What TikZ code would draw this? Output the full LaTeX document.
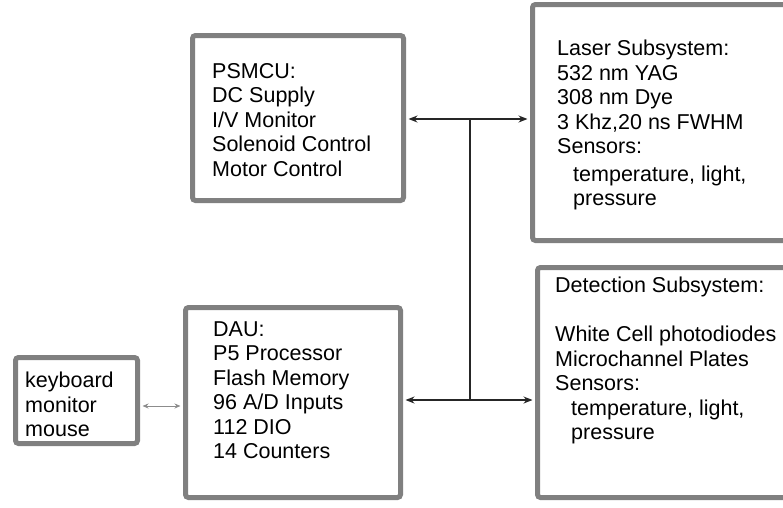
\documentclass[tikz,border=0pt]{standalone}
\usepackage{fontspec}
\setmainfont{Liberation Sans}
\usetikzlibrary{arrows.meta}
\begin{document}
\begin{tikzpicture}[x=1pt,y=-1pt,
 box/.style={draw=black!50, line width=5pt, rounded corners=3pt, inner sep=0pt},
 txt/.style={anchor=north west, align=left, inner sep=0pt, font=\fontsize{21.5}{24.5}\selectfont},
 bus/.style={line width=1.3pt, draw=black!85},
 tip/.style={-{Stealth[length=9pt,width=7pt]}, shorten >=2.5pt},
 kb/.style={line width=1pt, draw=black!45, {Stealth[length=6pt,width=5pt]}-{Stealth[length=6pt,width=5pt]}, shorten >=2.5pt, shorten <=2.5pt}
]
\useasboundingbox (0,0) rectangle (783,507);
\clip (0,0) rectangle (783,507);
\node[box, minimum width=211, minimum height=165] (psmcu) at (298,118) {};
\node[box, minimum width=262.5, minimum height=236] (laser) at (663.75,122.5) {};
\node[box, minimum width=257.5, minimum height=230] (det) at (666.25,382.5) {};
\node[box, minimum width=215, minimum height=190] (dau) at (293,402.5) {};
\node[box, minimum width=122, minimum height=86] (kbd) at (76.5,400.5) {};

\node[txt] (psmcuT) at (212,63) {PSMCU:\\DC Supply\\I/V Monitor\\Solenoid Control\\Motor Control};
\node[txt] (laserT) at (557,40) {Laser Subsystem:\\532 nm YAG\\308 nm Dye\\3 Khz,20 ns FWHM\\Sensors:\\[3pt]\hspace*{16pt}temperature, light,\\\hspace*{16pt}pressure};
\node[txt] (detT) at (555,277) {Detection Subsystem:\\[24.5pt]White Cell photodiodes\\Microchannel Plates\\Sensors:\\\hspace*{16pt}temperature, light,\\\hspace*{16pt}pressure};
\node[txt] (dauT) at (213,321) {DAU:\\P5 Processor\\Flash Memory\\96 A/D Inputs\\112 DIO\\14 Counters};
\node[txt] (kbdT) at (25,372) {keyboard\\monitor\\mouse};

\coordinate (jt) at (470,119);
\coordinate (jb) at (470,400);
\draw[bus] (jt) -- (jb);
\draw[bus,tip] (jt) -- (psmcu.east |- jt);
\draw[bus,tip] (jt) -- (laser.west |- jt);
\draw[bus,tip] (jb) -- (dau.east |- jb);
\draw[bus,tip] (jb) -- (det.west |- jb);
\coordinate (kk) at (160,406);
\draw[kb] (kbd.east |- kk) -- (dau.west |- kk);
\end{tikzpicture}
\end{document}
